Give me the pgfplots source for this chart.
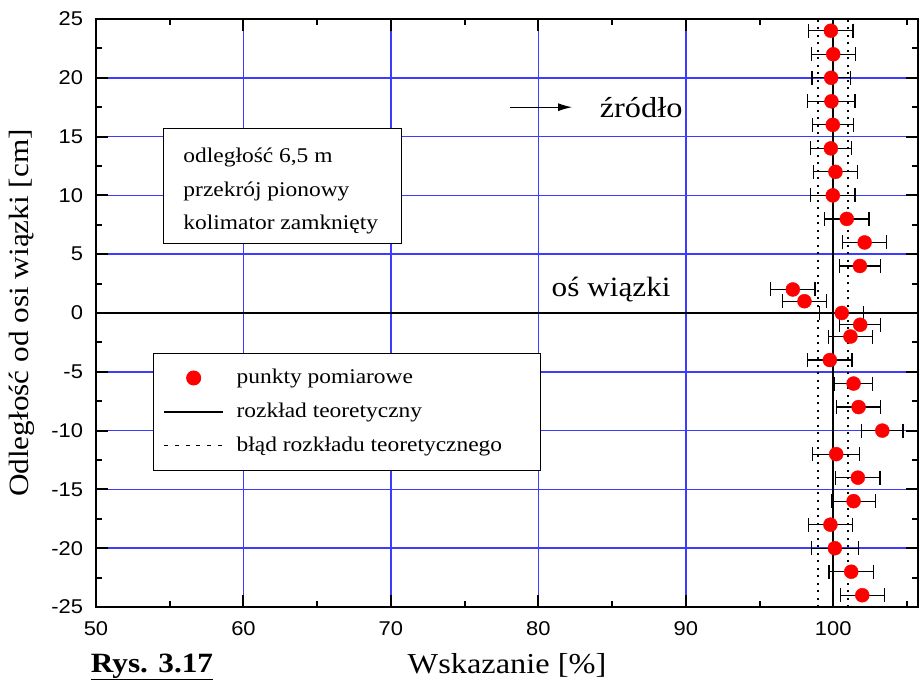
\documentclass[border=0pt]{standalone}
\usepackage{fontspec}
\setmainfont[FakeStretch=1.12]{Liberation Serif}
\newfontfamily\tickfont[FakeStretch=1.1]{Liberation Sans}
\usepackage{pgfplots}
\usepackage{pgfplotstable}
\pgfplotsset{compat=1.18}
\usetikzlibrary{arrows.meta}
\definecolor{gridblue}{RGB}{60,60,255}
\pgfplotsset{
  legmark/.style={legend image code/.code={\path (0bp,0bp) (59bp,0bp); \draw[##1] plot coordinates {(29.5bp,0bp)};}},
  legline/.style={legend image code/.code={\draw[##1] (0bp,0bp) -- (59bp,0bp);}},
  legdots/.style={legend image code/.code={\draw[##1] (0bp,0bp) -- (64bp,0bp);}},
}
\pgfplotstableread{
x y e
99.84 24 1.5
100.00 22 1.5
99.86 20 1.3
99.88 18 1.6
99.97 16 1.4
99.84 14 1.4
100.15 12 1.5
99.97 10 1.5
100.92 8 1.5
102.13 6 1.5
101.81 4 1.4
97.26 2 1.5
98.05 1 1.5
100.58 0 1.5
101.83 -1 1.4
101.17 -2 1.5
99.77 -4 1.5
101.38 -6 1.3
101.72 -8 1.5
103.33 -10 1.4
100.20 -12 1.6
101.67 -14 1.5
101.38 -16 1.5
99.81 -18 1.5
100.11 -20 1.6
101.22 -22 1.5
101.97 -24 1.5
}\datatable
\begin{document}
\begin{tikzpicture}
\begin{axis}[
  scale only axis, width=822bp, height=588bp,
  xmin=50, xmax=105.75, ymin=-25, ymax=25,
  xtick={50,60,...,100}, ytick={-25,-20,...,25},
  minor xtick={55,65,...,105}, minor ytick={-22.5,-17.5,...,22.5},
  tick align=inside, major tick length=12bp, minor tick length=6bp,
  major tick style={black, line width=2bp},
  minor tick style={black, line width=2bp},
  axis line style={line width=2.5bp},
  grid=major, major grid style={draw=gridblue, line width=1.5bp},
  ticklabel style={font=\tickfont\fontsize{20}{24}\selectfont},
  xticklabel style={yshift=-11.5bp},
  yticklabel style={xshift=-9.5bp},
  /pgf/number format/assume math mode=true,
  xlabel={Wskazanie [\%]},
  ylabel={Odległość od osi wiązki [cm]},
  xlabel style={at={(axis description cs:0.5,0)}, anchor=center, yshift=-58bp, font=\fontsize{29}{34}\selectfont},
  ylabel style={at={(axis description cs:-0.09,0.5)}, anchor=center, font=\fontsize{28}{34}\selectfont},
  clip=false,
  legend cell align=left,
  legend style={at={(axis cs:53.87,-3.40)}, anchor=north west, draw=black, line width=1bp, fill=white,
    font=\fontsize{21}{25}\selectfont, inner xsep=10bp, inner ysep=14bp, row sep=13bp, column sep=8bp,
    nodes={inner sep=0bp, text height=16bp, text depth=5bp}},
]
\addlegendimage{only marks, mark=*, mark size=7bp, red, mark options={fill=red, draw=red}, legmark}
\addlegendentry{punkty pomiarowe}
\addlegendimage{black, line width=1.2bp, legline}
\addlegendentry{rozkład teoretyczny}
\addlegendimage{black, line width=1bp, dash pattern=on 4bp off 6.7bp, legdots}
\addlegendentry{błąd rozkładu teoretycznego\hspace*{28bp}}

\addplot[black, line width=2.5bp, forget plot] coordinates {(50,0) (105.75,0)};
\addplot[black, line width=2bp, forget plot] coordinates {(100,-25) (100,25)};
\addplot[black, line width=2bp, dash pattern=on 2bp off 5.5bp, forget plot] coordinates {(99,-25) (99,25)};
\addplot[black, line width=2bp, dash pattern=on 2bp off 5.5bp, forget plot] coordinates {(101,-25) (101,25)};
\addplot[only marks, mark=*, mark size=7bp, mark options={fill=red, draw=red}, forget plot,
  error bars/.cd, x dir=both, x explicit, error mark=|,
  error bar style={black, line width=1.2bp},
  error mark options={black, line width=1.2bp, mark size=7bp}]
  table[x=x, y=y, x error=e]{\datatable};

\draw[line width=1bp, fill=white] (axis cs:54.55,15.65) rectangle (axis cs:70.69,5.95);
\node[anchor=base west, font=\fontsize{21}{25}\selectfont, inner sep=0pt] at (axis cs:55.92,12.76) {odległość 6,5 m};
\node[anchor=base west, font=\fontsize{21}{25}\selectfont, inner sep=0pt] at (axis cs:55.92,9.91) {przekrój pionowy};
\node[anchor=base west, font=\fontsize{21}{25}\selectfont, inner sep=0pt] at (axis cs:55.92,7.06) {kolimator zamknięty};

\draw[line width=1.2bp, -{Latex[length=14bp, width=8bp]}] (axis cs:78.09,17.5) -- (axis cs:82.29,17.5);
\node[font=\fontsize{29}{34}\selectfont] at (axis cs:86.97,17.43) {źródło};
\node[font=\fontsize{28}{34}\selectfont] at (axis cs:84.94,1.96) {oś wiązki};
\end{axis}
\node[font=\bfseries\fontsize{28}{32}\selectfont] at ([shift={(56bp,-60bp)}]current axis.south west) {\underline{Rys. 3.17}};
\pgfresetboundingbox
\useasboundingbox (current axis.south west) ++(-96bp,-80bp) rectangle ++(920bp,687bp);
\end{tikzpicture}
\end{document}
